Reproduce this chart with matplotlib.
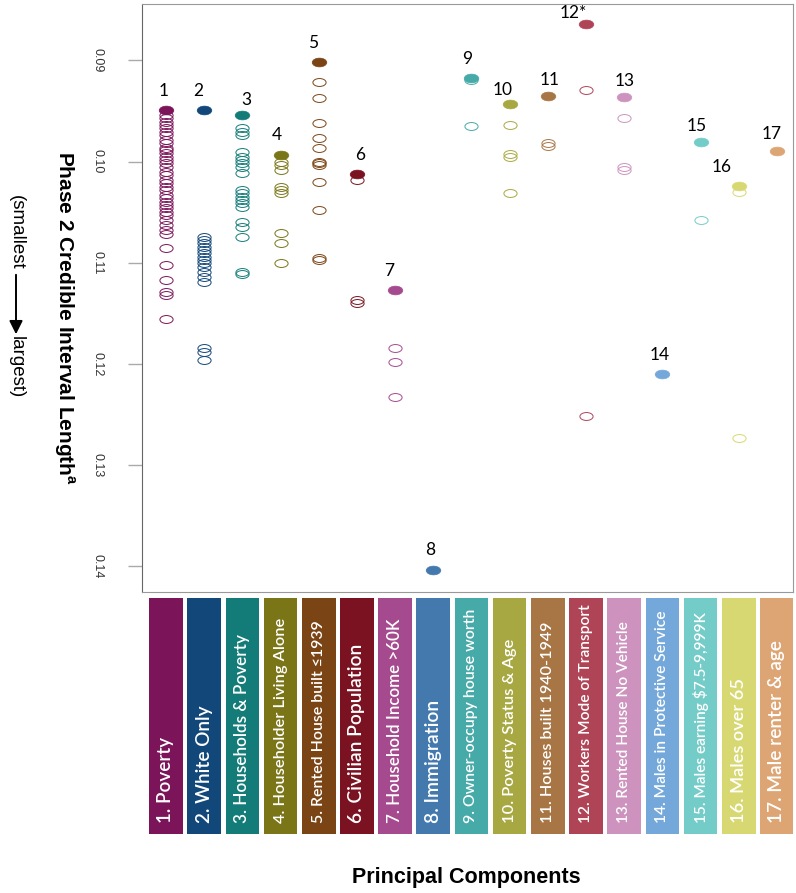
import matplotlib
matplotlib.use("Agg")
import matplotlib.pyplot as plt
from matplotlib.path import Path
from matplotlib.transforms import Affine2D

# principal components, left to right
components = ["1. Poverty", "2. White Only", "3. Households & Poverty",
              "4. Householder Living Alone", "5. Rented House built \u22641939",
              "6. Civilian Population", "7. Household Income >60K", "8. Immigration",
              "9. Owner-occupy house worth", "10. Poverty Status & Age",
              "11. Houses built 1940-1949", "12. Workers Mode of Transport",
              "13. Rented House No Vehicle", "14. Males in Protective Service",
              "15. Males earning $7.5-9,999K", "16. Males over 65", "17. Male renter & age"]
point_labels = ["1", "2", "3", "4", "5", "6", "7", "8", "9", "10",
                "11", "12*", "13", "14", "15", "16", "17"]
colors = ["#7b1458", "#12477a", "#137c78", "#7a7517", "#7b4414", "#7a1221",
          "#a64a8f", "#4479ae", "#45aaa8", "#a8a843", "#a87545", "#b04457",
          "#cd93be", "#74a8da", "#74ccc9", "#d8d873", "#dda574"]

# best (filled) credible interval length per component
best = [0.0949, 0.0949, 0.0954, 0.0993, 0.0902, 0.1012, 0.1127, 0.1403, 0.0917,
        0.0943, 0.0935, 0.0864, 0.0936, 0.1210, 0.0981, 0.1024, 0.0989]

# the other (open) models in each component
others = [
    [0.0954, 0.0957, 0.0961, 0.0964, 0.0967, 0.0971, 0.0974, 0.0979, 0.0982, 0.0986,
     0.0988, 0.0991, 0.0995, 0.0998, 0.1001, 0.1005, 0.1010, 0.1013, 0.1018, 0.1021,
     0.1025, 0.1028, 0.1033, 0.1036, 0.1040, 0.1043, 0.1046, 0.1050, 0.1053, 0.1058,
     0.1063, 0.1068, 0.1071, 0.1085, 0.1102, 0.1117, 0.1129, 0.1132, 0.1155],
    [0.1074, 0.1077, 0.1080, 0.1084, 0.1087, 0.1090, 0.1094, 0.1097, 0.1100, 0.1104,
     0.1109, 0.1114, 0.1119, 0.1184, 0.1188, 0.1196],
    [0.0967, 0.0971, 0.0974, 0.0990, 0.0995, 0.0998, 0.1001, 0.1005, 0.1011, 0.1028,
     0.1031, 0.1035, 0.1038, 0.1041, 0.1045, 0.1060, 0.1065, 0.1074, 0.1109, 0.1111],
    [0.1000, 0.1003, 0.1008, 0.1025, 0.1028, 0.1031, 0.1070, 0.1080, 0.1100],
    [0.0921, 0.0937, 0.0962, 0.0977, 0.0986, 0.1000, 0.1001, 0.1003, 0.1020, 0.1048,
     0.1095, 0.1097],
    [0.1018, 0.1137, 0.1140],
    [0.1184, 0.1198, 0.1233],
    [],
    [0.0919, 0.0965],
    [0.0964, 0.0992, 0.0995, 0.1031],
    [0.0982, 0.0985],
    [0.0929, 0.1251],
    [0.0957, 0.1005, 0.1008],
    [],
    [0.1058],
    [0.1030, 0.1273],
    [],
]

yticks = [0.09, 0.10, 0.11, 0.12, 0.13, 0.14]

# label nudges in points (dx, dy) above each filled point
nudge = [(-2, 8), (-4, 8), (3, 5), (-3, 8), (-4, 8), (2, 8), (-4, 8), (-2, 8),
         (-3, 8), (-5, 4), (1, 6), (-9, 2), (0, 6), (-2, 8), (-3, 6), (-12, 8), (-4, 6)]
# how long each boxed label runs, in pixels (each box was sized on its own)
label_len = [86, 118, 188, 205, 203, 180, 203, 123, 215, 183, 201, 218, 201, 213,
             211, 145, 183]

W, H = 796, 893
fig = plt.figure(figsize=(W / 100, H / 100), dpi=100)

ell = Path.unit_circle().transformed(Affine2D().scale(1, 0.6))

ax = fig.add_axes([142 / W, 1 - 592 / H, 651 / W, 588 / H])
xs = list(range(1, len(components) + 1))
for x, c, vals in zip(xs, colors, others):
    ax.plot([x] * len(vals), vals, ls="none", marker=ell, ms=9.5, mfc="none",
            mec=c, mew=0.7)
for x, c, b, lab, (dx, dy) in zip(xs, colors, best, point_labels, nudge):
    ax.plot([x], [b], ls="none", marker=ell, ms=10.5, mfc=c, mec=c, mew=0.5)
    ax.annotate(lab, (x, b), xytext=(dx, dy), textcoords="offset points",
                ha="center", va="bottom", fontsize=12.5, family="Lato")

ax.set_xlim(0.372, 17.42)
ax.set_ylim(0.14252, 0.08442)
ax.set_xticks([])
ax.set_yticks(yticks)
ax.set_yticklabels(["%.2f" % t for t in yticks], rotation=-90, va="center",
                   fontsize=9, color="#333333", family="Liberation Sans")
ax.tick_params(axis="y", length=10, width=1, color="#aaaaaa", pad=18)
for s in ["top", "right", "bottom"]:
    ax.spines[s].set_color("#999999")
ax.spines["left"].set_color("#666666")

# coloured label panel below the plot
ax2 = fig.add_axes([142 / W, 1 - 834 / H, 651 / W, 240 / H])
ax2.bar(xs, 0.985, width=0.88, color=colors, align="center")
ax2.set_xlim(ax.get_xlim())
ax2.set_ylim(0, 1)
ax2.axis("off")
renderer = fig.canvas.get_renderer()
for x, name, ln in zip(xs, components, label_len):
    t = ax2.text(x, 0.045, name, rotation=90, ha="center", va="bottom", color="white",
                 fontsize=12, fontweight="semibold", family=["Lato", "DejaVu Sans"])
    h = t.get_window_extent(renderer).height
    t.set_fontsize(12 * ln / h)

fig.text(466 / W, 1 - 878 / H, "Principal Components", ha="center", va="center",
         fontsize=15.5, fontweight="bold", family="Liberation Sans")

plt.rcParams["mathtext.fontset"] = "custom"
plt.rcParams["mathtext.bf"] = "Liberation Sans:bold"
plt.rcParams["mathtext.rm"] = "Liberation Sans"
fig.text(64 / W, 1 - 318 / H, r"Phase 2 Credible Interval Length$^\mathbf{a}$",
         rotation=-90, ha="center", va="center", fontsize=15, fontweight="bold",
         family="Liberation Sans")

fig.text(16 / W, 1 - 232 / H, "(smallest", rotation=-90, ha="center", va="center",
         fontsize=13.5, family="Liberation Sans")
fig.text(16 / W, 1 - 367 / H, "largest)", rotation=-90, ha="center", va="center",
         fontsize=13.5, family="Liberation Sans")
ax.annotate("", xy=(16 / W, 1 - 337 / H), xytext=(16 / W, 1 - 272 / H),
            xycoords="figure fraction", textcoords="figure fraction",
            arrowprops=dict(arrowstyle="-|>", color="black", lw=1.4, mutation_scale=20))

fig.savefig("out.png", dpi=100)
